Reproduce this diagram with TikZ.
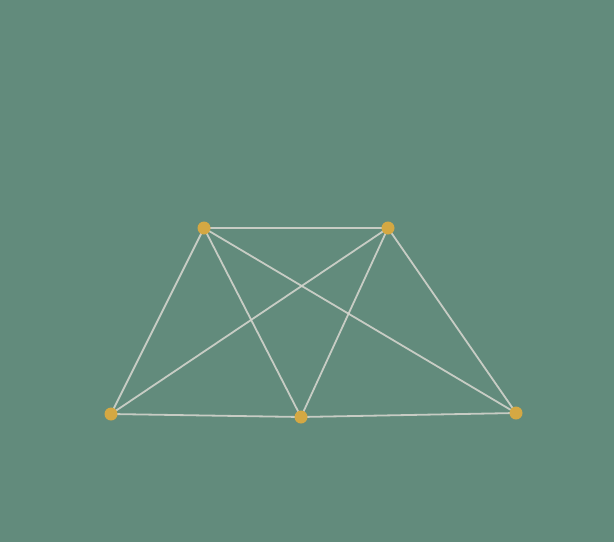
\documentclass[tikz,border=0pt]{standalone}
\definecolor{bg}{HTML}{628B7C}
\definecolor{dotc}{HTML}{D4A843}
\definecolor{chalk}{HTML}{D2D4CC}
\begin{document}
\begin{tikzpicture}[x=1pt,y=-1pt,
  pt/.style={circle,fill=dotc,inner sep=0pt,minimum size=13pt},
  edge/.style={draw=chalk,line width=1.8pt,opacity=0.9}]
\fill[bg] (0,0) rectangle (614,542);
\useasboundingbox (0,0) rectangle (614,542);
\coordinate (A) at (204,228);
\coordinate (B) at (388,228);
\coordinate (C) at (111,414);
\coordinate (D) at (301,417);
\coordinate (E) at (516,413);
\foreach \u/\v in {A/B,A/C,A/D,A/E,B/C,B/D,B/E,C/D,D/E}
  \draw[edge] (\u) -- (\v);
\foreach \n in {A,B,C,D,E}
  \node[pt] (n\n) at (\n) {};
\end{tikzpicture}
\end{document}
